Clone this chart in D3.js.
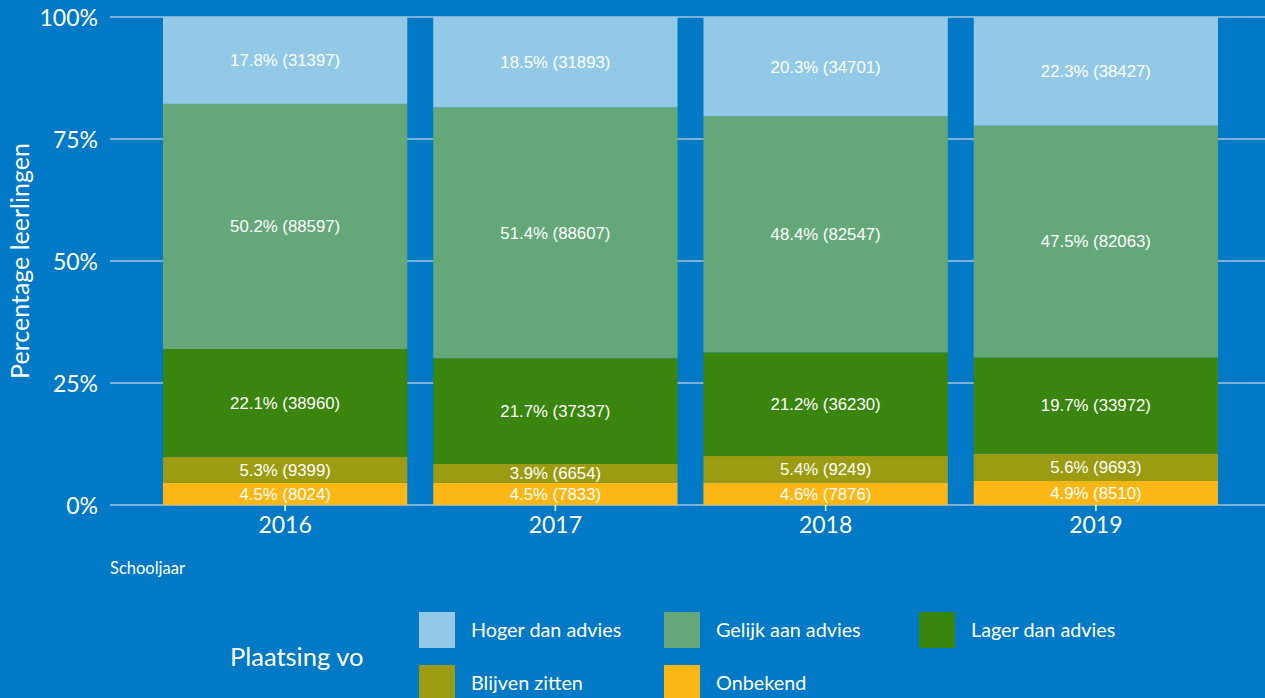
<!DOCTYPE html>
<html><head><meta charset="utf-8">
<script src="https://cdn.jsdelivr.net/npm/d3@7"></script>
<style>
html,body{margin:0;padding:0;background:#0079c6;}
svg{display:block;}
</style></head>
<body>
<svg id="chart" width="1265" height="698"></svg>
<script>
const years = ["2016", "2017", "2018", "2019"];
const seriesNames = ["Onbekend", "Blijven zitten", "Lager dan advies", "Gelijk aan advies", "Hoger dan advies"];
const legendOrder = ["Hoger dan advies", "Gelijk aan advies", "Lager dan advies", "Blijven zitten", "Onbekend"];
const colors = ["#fdb714", "#9c9c12", "#3a850e", "#64a879", "#92c9e6"];
const onbekend = [8024, 7833, 7876, 8510];
const blijvenZitten = [9399, 6654, 9249, 9693];
const lagerDanAdvies = [38960, 37337, 36230, 33972];
const gelijkAanAdvies = [88597, 88607, 82547, 82063];
const hogerDanAdvies = [31397, 31893, 34701, 38427];
const pctOnbekend = [4.5, 4.5, 4.6, 4.9];
const pctBlijven = [5.3, 3.9, 5.4, 5.6];
const pctLager = [22.1, 21.7, 21.2, 19.7];
const pctGelijk = [50.2, 51.4, 48.4, 47.5];
const pctHoger = [17.8, 18.5, 20.3, 22.3];
const yTicks = [0, 0.25, 0.5, 0.75, 1];
const yTickLabels = ["0%", "25%", "50%", "75%", "100%"];

const counts = [onbekend, blijvenZitten, lagerDanAdvies, gelijkAanAdvies, hogerDanAdvies];
const pcts = [pctOnbekend, pctBlijven, pctLager, pctGelijk, pctHoger];

const rows = years.map((y, i) => {
  const r = {year: y};
  seriesNames.forEach((s, k) => r[s] = counts[k][i]);
  return r;
});
const stacked = d3.stack().keys(seriesNames).offset(d3.stackOffsetExpand)(rows);

const svg = d3.select("#chart");
const font = "Lato, 'Open Sans', sans-serif";

const x = d3.scaleBand().domain(years).range([150, 1231]).paddingInner(0.096).paddingOuter(0.048);
const y = d3.scaleLinear().domain([0, 1]).range([505, 17]);
const color = d3.scaleOrdinal().domain(seriesNames).range(colors);

// gridlines
svg.append("g").selectAll("line").data(yTicks).join("line")
  .attr("x1", 110).attr("x2", 1265)
  .attr("y1", d => y(d)).attr("y2", d => y(d))
  .attr("stroke", "#a8c4dc").attr("stroke-width", 1.5);

// bars
const layers = svg.append("g").selectAll("g").data(stacked).join("g")
  .attr("fill", d => color(d.key));
layers.selectAll("rect").data(d => d).join("rect")
  .attr("x", d => x(d.data.year))
  .attr("width", x.bandwidth())
  .attr("y", d => y(d[1]))
  .attr("height", d => y(d[0]) - y(d[1]));

// bar labels
stacked.forEach((layer, k) => {
  svg.append("g").selectAll("text").data(layer).join("text")
    .attr("x", d => x(d.data.year) + x.bandwidth() / 2)
    .attr("y", d => (y(d[0]) + y(d[1])) / 2)
    .attr("dy", "0.35em")
    .attr("text-anchor", "middle")
    .attr("fill", "#ffffff")
    .attr("font-family", "'Liberation Sans', Arial, sans-serif")
    .attr("font-size", 16.8)
    .text((d, i) => pcts[k][i].toFixed(1) + "% (" + counts[k][i] + ")");
});

// y axis
const yAxis = d3.axisLeft(y).tickValues(yTicks).tickFormat((d, i) => yTickLabels[i]).tickSize(0).tickPadding(0);
const yg = svg.append("g").attr("transform", "translate(98,0)").call(yAxis);
yg.select(".domain").remove();
yg.selectAll("text").attr("fill", "#ffffff").attr("font-family", font).attr("font-size", 23).attr("dy", "0.35em");

// x axis
const xAxis = d3.axisBottom(x).tickSize(6).tickPadding(6);
const xg = svg.append("g").attr("transform", "translate(0,505)").call(xAxis);
xg.select(".domain").remove();
xg.selectAll("line").attr("stroke", "#ffffff").attr("stroke-width", 1.5);
xg.selectAll("text").attr("fill", "#ffffff").attr("font-family", font).attr("font-size", 23);

// axis titles
svg.append("text").attr("transform", "translate(29,261) rotate(-90)")
  .attr("text-anchor", "middle").attr("fill", "#ffffff")
  .attr("font-family", font).attr("font-size", 25).text("Percentage leerlingen");
svg.append("text").attr("x", 110).attr("y", 574)
  .attr("fill", "#ffffff").attr("font-family", font).attr("font-size", 16.5).text("Schooljaar");

// legend
svg.append("text").attr("x", 230).attr("y", 666)
  .attr("fill", "#ffffff").attr("font-family", font).attr("font-size", 25.5).text("Plaatsing vo");
const legX = [419, 664, 919];
const legY = [612, 665];
const lg = svg.append("g").selectAll("g").data(legendOrder).join("g")
  .attr("transform", (d, i) => `translate(${legX[i % 3]},${legY[Math.floor(i / 3)]})`);
lg.append("rect").attr("width", 36).attr("height", 36).attr("fill", d => color(d));
lg.append("text").attr("x", 52).attr("y", 18).attr("dy", "0.35em")
  .attr("fill", "#ffffff").attr("font-family", font).attr("font-size", 19.8).text(d => d);
</script>
</body></html>
